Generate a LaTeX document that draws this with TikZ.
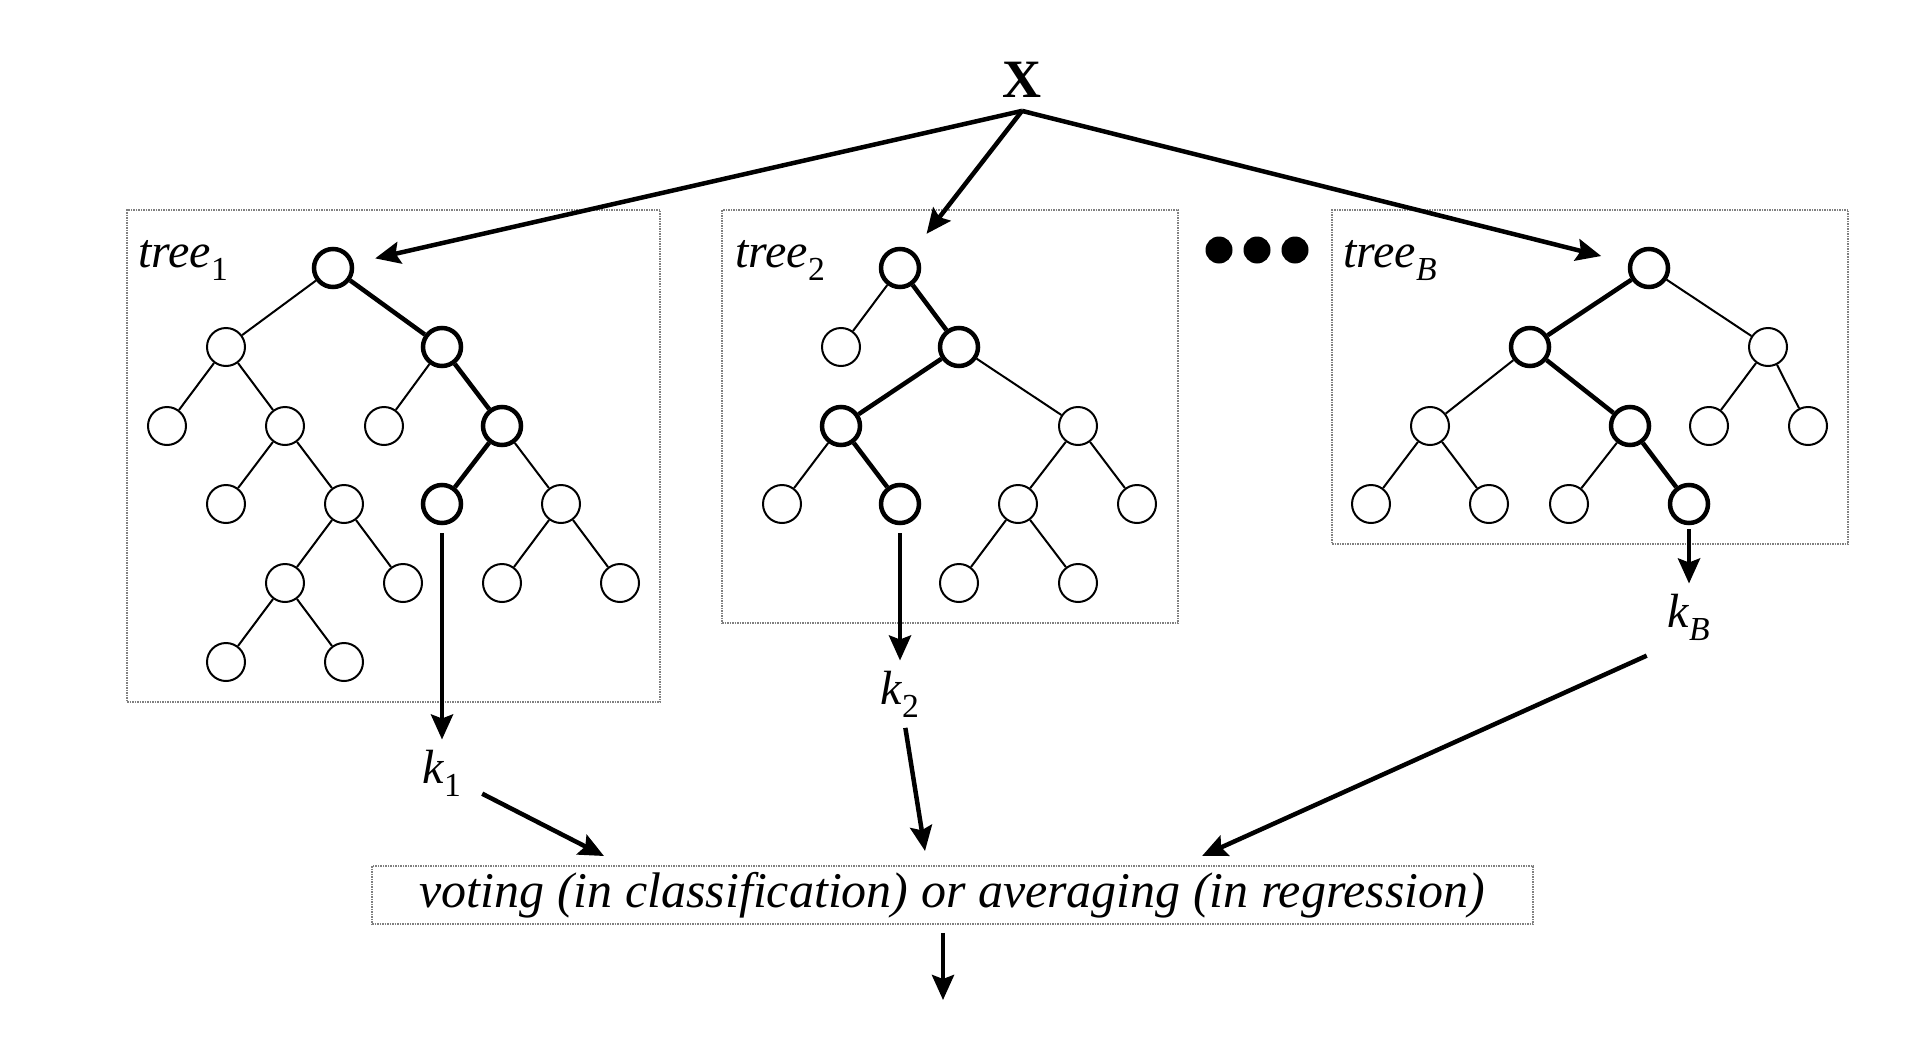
\documentclass[tikz,border=0pt]{standalone}
\usepackage{fontspec}
\setmainfont{Liberation Serif}
\usetikzlibrary{arrows.meta}

\begin{document}
\begin{tikzpicture}[x=1pt, y=-1pt,
    vertex/.style={draw, circle, line width=2pt, minimum size=38pt, inner sep=0pt},
    hot/.style={vertex, line width=4.5pt},
    edge/.style={line width=2pt},
    hotedge/.style={line width=4.5pt},
    arr/.style={line width=4.5pt, -{Stealth[length=25pt, width=22pt, inset=4pt]}},
    box/.style={draw=gray, densely dotted, line width=1.5pt, inner sep=0pt},
    lbl/.style={font=\fontsize{48}{58}\selectfont\itshape, inner sep=0pt},
    kval/.style={lbl, inner sep=10pt, anchor=base}]
  \useasboundingbox (0,0) rectangle (1916,1049);

  % input
  \node[font=\fontsize{54}{64}\selectfont\bfseries, inner xsep=4pt, inner ysep=13pt] (X) at (1022,80) {X};

  % dotted frames round the trees
  \node[box, minimum width=533pt, minimum height=492pt] (box1) at (393.5,456) {};
  \node[box, minimum width=456pt, minimum height=413pt] (box2) at (950,416.5) {};
  \node[box, minimum width=516pt, minimum height=334pt] (boxB) at (1590,377) {};
  \node[lbl, anchor=base west] (lab1) at (138,267) {tree\textsubscript{\upshape 1}};
  \node[lbl, anchor=base west] (lab2) at (735,267) {tree\textsubscript{\upshape 2}};
  \node[lbl, anchor=base west] (labB) at (1343,267) {tree\textsubscript{B}};

  \foreach \i/\x in {1/1219,2/1257,3/1295}
    \node[circle, fill, minimum size=27pt, inner sep=0pt] (dot\i) at (\x,250) {};

  % tree 1
  \foreach \n/\x/\y in {a1/226/347, a3/167/426, a4/285/426, a5/384/426, a7/226/504, a8/344/504,
      a10/561/504, a11/285/583, a12/403/583, a13/502/583, a14/620/583, a15/226/662, a16/344/662}
    \node[vertex] (\n) at (\x,\y) {};
  \foreach \n/\x/\y in {a0/333/268, a2/442/347, a6/502/426, a9/442/504}
    \node[hot] (\n) at (\x,\y) {};
  \foreach \a/\b in {a0/a1, a1/a3, a1/a4, a2/a5, a4/a7, a4/a8, a6/a10, a8/a11, a8/a12,
      a10/a13, a10/a14, a11/a15, a11/a16}
    \draw[edge] (\a) -- (\b);
  \foreach \a/\b in {a0/a2, a2/a6, a6/a9}
    \draw[hotedge] (\a) -- (\b);

  % tree 2
  \foreach \n/\x/\y in {b1/841/347, b4/1078/426, b5/782/504, b7/1018/504, b8/1137/504,
      b9/959/583, b10/1078/583}
    \node[vertex] (\n) at (\x,\y) {};
  \foreach \n/\x/\y in {b0/900/268, b2/959/347, b3/841/426, b6/900/504}
    \node[hot] (\n) at (\x,\y) {};
  \foreach \a/\b in {b0/b1, b2/b4, b3/b5, b4/b7, b4/b8, b7/b9, b7/b10}
    \draw[edge] (\a) -- (\b);
  \foreach \a/\b in {b0/b2, b2/b3, b3/b6}
    \draw[hotedge] (\a) -- (\b);

  % tree B
  \foreach \n/\x/\y in {c2/1768/347, c3/1430/426, c5/1709/426, c6/1808/426, c7/1371/504,
      c8/1489/504, c9/1569/504}
    \node[vertex] (\n) at (\x,\y) {};
  \foreach \n/\x/\y in {c0/1649/268, c1/1530/347, c4/1630/426, c10/1689/504}
    \node[hot] (\n) at (\x,\y) {};
  \foreach \a/\b in {c0/c2, c1/c3, c2/c5, c2/c6, c3/c7, c3/c8, c4/c9}
    \draw[edge] (\a) -- (\b);
  \foreach \a/\b in {c0/c1, c1/c4, c4/c10}
    \draw[hotedge] (\a) -- (\b);

  % outputs of the trees
  \node[kval] (k1) at (442,783) {k\textsubscript{\upshape 1}};
  \node[kval] (k2) at (900,704) {k\textsubscript{\upshape 2}};
  \node[kval] (kB) at (1689,627) {k\textsubscript{B}};

  \node[box, lbl, font=\fontsize{50}{60}\selectfont\itshape, minimum width=1161pt, minimum height=58pt] (vote)
    at (952.5,895) {voting (in classification) or averaging (in regression)};

  \coordinate (in1) at (604,856);
  \coordinate (in2) at (925,851);
  \coordinate (inB) at (1202,856);
  \coordinate (out) at (943,1000);

  \draw[arr, shorten >=22pt] (X.south) -- (a0);
  \draw[arr, shorten >=22pt] (X.south) -- (b0);
  \draw[arr, shorten >=28pt] (X.south) -- (c0);

  \draw[arr, shorten <=8pt] (a9) -- (k1);
  \draw[arr, shorten <=8pt] (b6) -- (k2);
  \draw[arr, shorten <=4pt] (c10) -- (kB);

  \draw[arr, shorten <=12pt] (k1) -- (in1);
  \draw[arr] (k2) -- (in2);
  \draw[arr, shorten <=12pt] (kB.south west) -- (inB);
  \draw[arr, shorten <=8pt] (vote.south -| out) -- (out);
\end{tikzpicture}
\end{document}
